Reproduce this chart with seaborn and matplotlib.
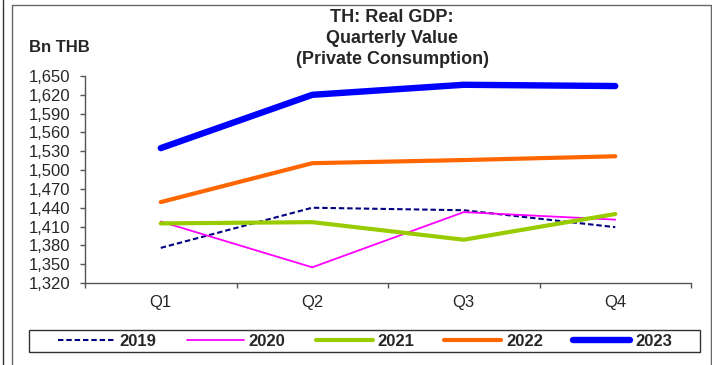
import pandas as pd
import numpy as np
import matplotlib
matplotlib.use("Agg")
import matplotlib.pyplot as plt
import seaborn as sns
from matplotlib.lines import Line2D
from matplotlib.patches import Rectangle
from matplotlib.ticker import FuncFormatter

# ==============================
# DATA
# ==============================

quarters = ["Q1", "Q2", "Q3", "Q4"]
years = ["2019", "2020", "2021", "2022", "2023"]

gdp_2019 = [1376, 1440, 1436, 1409]
gdp_2020 = [1418, 1345, 1433, 1421]
gdp_2021 = [1415, 1417, 1389, 1430]
gdp_2022 = [1449, 1511, 1516, 1522]
gdp_2023 = [1535, 1620, 1636, 1634]

y_ticks = [1320, 1350, 1380, 1410, 1440, 1470, 1500, 1530, 1560, 1590, 1620, 1650]

df = pd.DataFrame({
    "Quarter": quarters * 5,
    "Year": np.repeat(years, 4),
    "Value": gdp_2019 + gdp_2020 + gdp_2021 + gdp_2022 + gdp_2023,
})

# ==============================
# STYLES
# ==============================

palette = {
    "2019": "#000080",
    "2020": "#FF00FF",
    "2021": "#99CC00",
    "2022": "#FF6600",
    "2023": "#0000FF",
}
widths = {"2019": 1.5, "2020": 1.3, "2021": 3.0, "2022": 3.0, "2023": 4.6}
dashes = {"2019": (2.6, 1.4), "2020": "", "2021": "", "2022": "", "2023": ""}

sns.set_style("white")
plt.rcParams["font.family"] = ["Liberation Sans", "DejaVu Sans"]

fig = plt.figure(figsize=(7.12, 3.65), dpi=100)
ax = fig.add_axes([85 / 712, 82 / 365, 606 / 712, 207 / 365])

sns.lineplot(
    data=df, x="Quarter", y="Value", hue="Year", style="Year",
    palette=palette, dashes=dashes, legend=False, ax=ax,
)
for line, yr in zip(ax.get_lines(), years):
    line.set_linewidth(widths[yr])
    line.set_solid_capstyle("round")
    line.set_dash_capstyle("butt")

# ==============================
# AXES
# ==============================

ax.set_xlim(-0.5, 3.5)
ax.set_ylim(1320, 1650)
ax.set_yticks(y_ticks)
ax.yaxis.set_major_formatter(FuncFormatter(lambda v, p: f"{int(v):,}"))
ax.set_xticks([0, 1, 2, 3])
ax.set_xticklabels(quarters)
ax.set_xticks([-0.5, 0.5, 1.5, 2.5, 3.5], minor=True)
ax.tick_params(axis="x", which="major", length=0, pad=9, labelsize=12)
ax.tick_params(axis="x", which="minor", length=3.6, width=1, color="#555555", direction="out", bottom=True)
ax.tick_params(axis="y", length=3.6, width=1, color="#555555", direction="out", left=True, labelsize=12, pad=7)
ax.set_xlabel("")
ax.set_ylabel("")
for side in ["top", "right"]:
    ax.spines[side].set_visible(False)
for side in ["left", "bottom"]:
    ax.spines[side].set_color("#555555")
    ax.spines[side].set_linewidth(1)

# ==============================
# TEXT
# ==============================

fig.text(392 / 712, 1 - 9 / 365, "TH: Real GDP:\nQuarterly Value\n(Private Consumption)",
         ha="center", va="top", fontsize=13, fontweight="bold", linespacing=1.32)
fig.text(29 / 712, 1 - 48 / 365, "Bn THB", ha="left", va="center", fontsize=12, fontweight="bold")

# ==============================
# LEGEND
# ==============================

handles = [
    Line2D([], [], color=palette[yr], lw=widths[yr],
           linestyle=(0, dashes[yr]) if dashes[yr] else "-",
           solid_capstyle="round")
    for yr in years
]
leg = fig.legend(
    handles, years, loc="center", bbox_to_anchor=(365 / 712, 1 - 341 / 365),
    ncol=5, frameon=False, handlelength=3.42, handletextpad=0.3,
    columnspacing=1.8, prop={"weight": "bold", "size": 12},
)
fig.add_artist(Rectangle((29 / 712, 13 / 365), 671 / 712, 22 / 365, fill=False,
                         edgecolor="#333333", lw=1, transform=fig.transFigure))

# ==============================
# OUTER FRAMES
# ==============================

fig.add_artist(Line2D([12 / 712, 12 / 712, 711 / 712, 711 / 712], [0, 1 - 4.5 / 365, 1 - 4.5 / 365, 0],
                      color="#666666", lw=1, transform=fig.transFigure))
fig.add_artist(Line2D([3 / 712, 3 / 712], [0, 1], color="#333333", lw=1, transform=fig.transFigure))

plt.savefig("out.png", dpi=100)
